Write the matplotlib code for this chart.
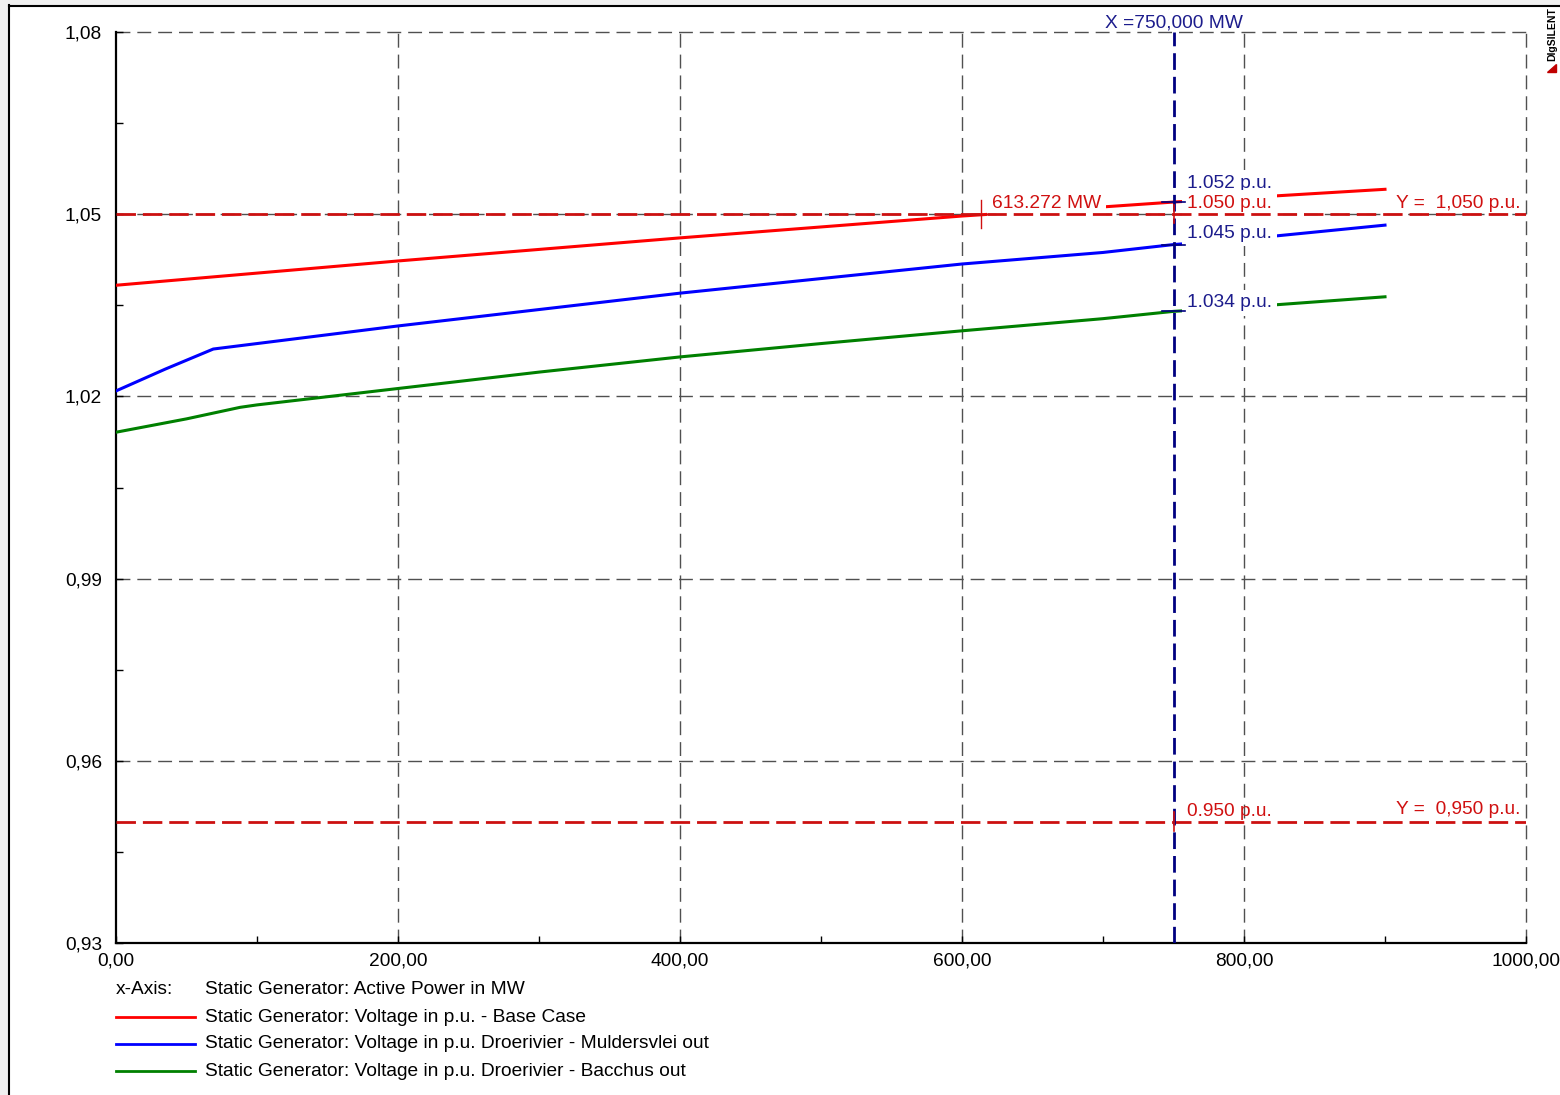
import matplotlib
matplotlib.use("Agg")
import matplotlib.pyplot as plt
from matplotlib.lines import Line2D
from matplotlib.patches import Rectangle, Polygon

plt.rcParams['font.family'] = ['Liberation Sans', 'DejaVu Sans']

# ---- data ----
red_x = [0, 100, 200, 300, 400, 500, 600, 700, 750, 800, 900]
red_y = [1.0383, 1.0403, 1.0423, 1.0442, 1.0461, 1.0479, 1.0497, 1.0512, 1.0520, 1.0527, 1.0541]

blue_x = [0, 35, 69, 100, 200, 300, 400, 500, 600, 700, 750, 800, 900]
blue_y = [1.0209, 1.0245, 1.0278, 1.0287, 1.0316, 1.0343, 1.0370, 1.0394, 1.0418, 1.0437, 1.0450, 1.0459, 1.0482]

green_x = [0, 50, 88, 100, 200, 300, 400, 500, 600, 700, 750, 800, 900]
green_y = [1.0141, 1.0163, 1.0182, 1.0186, 1.0213, 1.0240, 1.0265, 1.0287, 1.0308, 1.0328, 1.0340, 1.0347, 1.0364]

x_ticks = [0, 200, 400, 600, 800, 1000]
x_ticklabels = ["0,00", "200,00", "400,00", "600,00", "800,00", "1000,00"]
y_ticks = [0.93, 0.96, 0.99, 1.02, 1.05, 1.08]
y_ticklabels = ["0,93", "0,96", "0,99", "1,02", "1,05", "1,08"]

upper_limit = 1.05
lower_limit = 0.95
cursor_x = 750.0
cross_x = 613.272

legend_labels = [
    "Static Generator: Voltage in p.u. - Base Case",
    "Static Generator: Voltage in p.u. Droerivier - Muldersvlei out",
    "Static Generator: Voltage in p.u. Droerivier - Bacchus out",
]
xaxis_label = "Static Generator: Active Power in MW"

RED = "#ff0000"
BLUE = "#0000ff"
GREEN = "#008000"
LRED = "#d01010"
NAVY = "#000080"
NAVYT = "#1c1c8c"
FS = 13.8

W, H = 1560, 1095
fig = plt.figure(figsize=(W / 100, H / 100), dpi=100, facecolor="white")

# outer frame
fig.patches.append(Rectangle((0, 0), 8 / W, 1, transform=fig.transFigure, color="#f0f0f0", zorder=0))
fig.patches.append(Rectangle((0, 1 - 5 / H), 1, 5 / H, transform=fig.transFigure, color="#f0f0f0", zorder=0))
fig.lines.append(Line2D([8.5 / W, 8.5 / W], [0, 1 - 5 / H], transform=fig.transFigure, color="black", lw=1.5))
fig.lines.append(Line2D([8.5 / W, 1], [1 - 5.5 / H, 1 - 5.5 / H], transform=fig.transFigure, color="black", lw=1.5))

ax = fig.add_axes([116 / W, 1 - 943 / H, (1526 - 116) / W, (943 - 32) / H])
ax.set_xlim(0, 1000)
ax.set_ylim(0.93, 1.08)
ax.spines['top'].set_visible(False)
ax.spines['right'].set_visible(False)
ax.spines['left'].set_linewidth(1.6)
ax.spines['bottom'].set_linewidth(1.6)
ax.set_xticks(x_ticks)
ax.set_xticklabels(x_ticklabels, fontsize=FS)
ax.set_yticks(y_ticks)
ax.set_yticklabels(y_ticklabels, fontsize=FS)
ax.set_xticks([100, 300, 500, 700, 900], minor=True)
ax.set_yticks([0.945, 0.975, 1.005, 1.035, 1.065], minor=True)
ax.tick_params(which='both', direction='in', length=5, width=1)
ax.tick_params(axis='y', pad=10)
ax.tick_params(axis='x', pad=7)

grid_style = dict(color="#505050", lw=1, linestyle=(0, (10, 5)), zorder=1, clip_on=False)
for xv in x_ticks[1:]:
    ax.axvline(xv, **grid_style)
for yv in y_ticks[1:]:
    ax.axhline(yv, **grid_style)

# curves
ax.plot(red_x, red_y, color=RED, lw=2.2, zorder=3)
ax.plot(blue_x, blue_y, color=BLUE, lw=2.2, zorder=3)
ax.plot(green_x, green_y, color=GREEN, lw=2.2, zorder=3)

# labels with white boxes covering the curves
box = dict(facecolor="white", edgecolor="none", pad=3.5)
ax.text(621, 1.0518, "613.272 MW", color=LRED, fontsize=FS, va="center", ha="left", bbox=box, zorder=4)
ax.text(759.6, 1.0551, "1.052 p.u.", color=NAVYT, fontsize=FS, va="center", ha="left", bbox=box, zorder=4)
ax.text(759.6, 1.0518, "1.050 p.u.", color=LRED, fontsize=FS, va="center", ha="left", bbox=box, zorder=4)
ax.text(759.6, 1.0469, "1.045 p.u.", color=NAVYT, fontsize=FS, va="center", ha="left", bbox=box, zorder=4)
ax.text(759.6, 1.0354, "1.034 p.u.", color=NAVYT, fontsize=FS, va="center", ha="left", bbox=box, zorder=4)
ax.text(759.6, 0.9517, "0.950 p.u.", color=LRED, fontsize=FS, va="center", ha="left", zorder=4)
ax.text(996, 1.0518, "Y =  1,050 p.u.", color=LRED, fontsize=FS, va="center", ha="right", zorder=4)
ax.text(996, 0.9519, "Y =  0,950 p.u.", color=LRED, fontsize=FS, va="center", ha="right", zorder=4)
ax.text(cursor_x, 1.0801, "X =750,000 MW", color=NAVYT, fontsize=FS, va="bottom", ha="center", zorder=4)

# limit lines and cursor
ax.axhline(upper_limit, color="#cc1010", lw=2, linestyle=(0, (7, 2.5)), zorder=5)
ax.axhline(lower_limit, color="#cc1010", lw=2, linestyle=(0, (7, 2.5)), zorder=5)
ax.axvline(cursor_x, color=NAVY, lw=2, linestyle=(0, (6, 2.5)), zorder=5)

# cross markers
ax.plot([cross_x, cross_x], [upper_limit - 0.0023, upper_limit + 0.0023], color=LRED, lw=1, zorder=6)
ax.plot([cross_x - 10, cross_x + 10], [upper_limit, upper_limit], color=LRED, lw=1, zorder=6)
for yv in [red_y[red_x.index(750)], blue_y[blue_x.index(750)], green_y[green_x.index(750)]]:
    ax.plot([cursor_x - 8, cursor_x + 8], [yv, yv], color=NAVY, lw=1.2, zorder=6)
ax.plot([cursor_x, cursor_x], [lower_limit - 0.0015, lower_limit + 0.0015], color=LRED, lw=1.2, zorder=6)
ax.plot([cursor_x, cursor_x], [upper_limit - 0.0015, upper_limit + 0.0015], color=LRED, lw=1.2, zorder=6)

# legend area
fig.text(116 / W, 1 - 990 / H, "x-Axis:", fontsize=FS, va="center", ha="left")
fig.text(205 / W, 1 - 990 / H, xaxis_label, fontsize=FS, va="center", ha="left")
for i, (lab, col) in enumerate(zip(legend_labels, [RED, BLUE, GREEN])):
    yy = 1 - (1017 + 27 * i) / H
    fig.lines.append(Line2D([116 / W, 195 / W], [yy, yy], transform=fig.transFigure, color=col, lw=2))
    fig.text(205 / W, yy, lab, fontsize=FS, va="center", ha="left")

# DIgSILENT mark
fig.text(1552 / W, 1 - 34 / H, "DIgSILENT", fontsize=7.5, fontweight="bold", rotation=90,
         va="center", ha="center")
fig.patches.append(Polygon([[1547 / W, 1 - 72 / H], [1556 / W, 1 - 72 / H], [1556 / W, 1 - 64 / H]],
                           closed=True, transform=fig.transFigure, color="#c00000"))

fig.savefig("out.png", dpi=100, facecolor="white")
